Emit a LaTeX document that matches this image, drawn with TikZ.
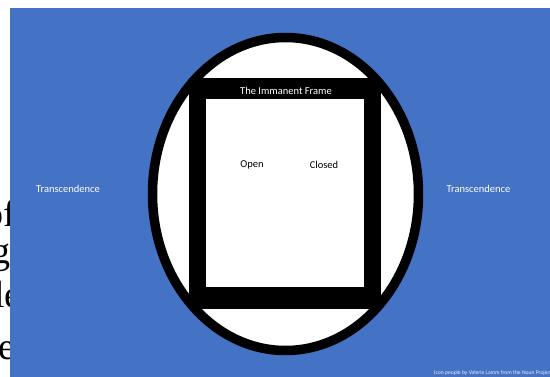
\documentclass[tikz,border=0pt]{standalone}
\usepackage{fontspec}
\setmainfont{Carlito}
\newfontfamily\serifbg{Liberation Serif}
\definecolor{slideblue}{HTML}{4472C4}
\tikzset{
  bgtext/.style={font=\serifbg\fontsize{38}{40}\selectfont, text=black, inner sep=0pt},
  whitelabel/.style={font=\fontsize{10.5}{12}\selectfont, text=white, inner sep=0pt},
  blacklabel/.style={font=\fontsize{10.5}{12}\selectfont, text=black, inner sep=0pt},
  credit/.style={font=\fontsize{5.6}{6}\selectfont, text=white!90!slideblue, inner sep=0pt}
}
\begin{document}
\begin{tikzpicture}[x=1pt,y=-1pt]
\useasboundingbox (0,0) rectangle (550,377);
\clip (0,0) rectangle (550,377);
% background document text fragments
\node[bgtext, anchor=base east] (t1) at (16,227) {of};
\node[bgtext, anchor=base east] (t2) at (11,264) {g};
\node[bgtext, anchor=base east] (t3) at (22,308) {le};
\node[bgtext, anchor=base east] (t4) at (16,360) {e};
% slide
\fill[slideblue] (10,8) rectangle (560,390);
% ellipse
\draw[line width=9.5pt, fill=white] (285.5,194) ellipse [x radius=133, y radius=156.5];
% frame
\fill[black] (189,78) rectangle (381,309);
\fill[white] (206,99) rectangle (364,287);
% labels
\node[whitelabel] (frame) at (286,91) {The Immanent Frame};
\node[blacklabel] (open) at (252,165) {Open};
\node[blacklabel] (closed) at (324,165) {Closed};
\node[whitelabel] (tl) at (68,189) {Transcendence};
\node[whitelabel] (tr) at (478.5,189) {Transcendence};
\node[credit, anchor=base west] (cr) at (434,375) {Icon people by Valerie Lamm from the Noun Project};
\end{tikzpicture}
\end{document}
